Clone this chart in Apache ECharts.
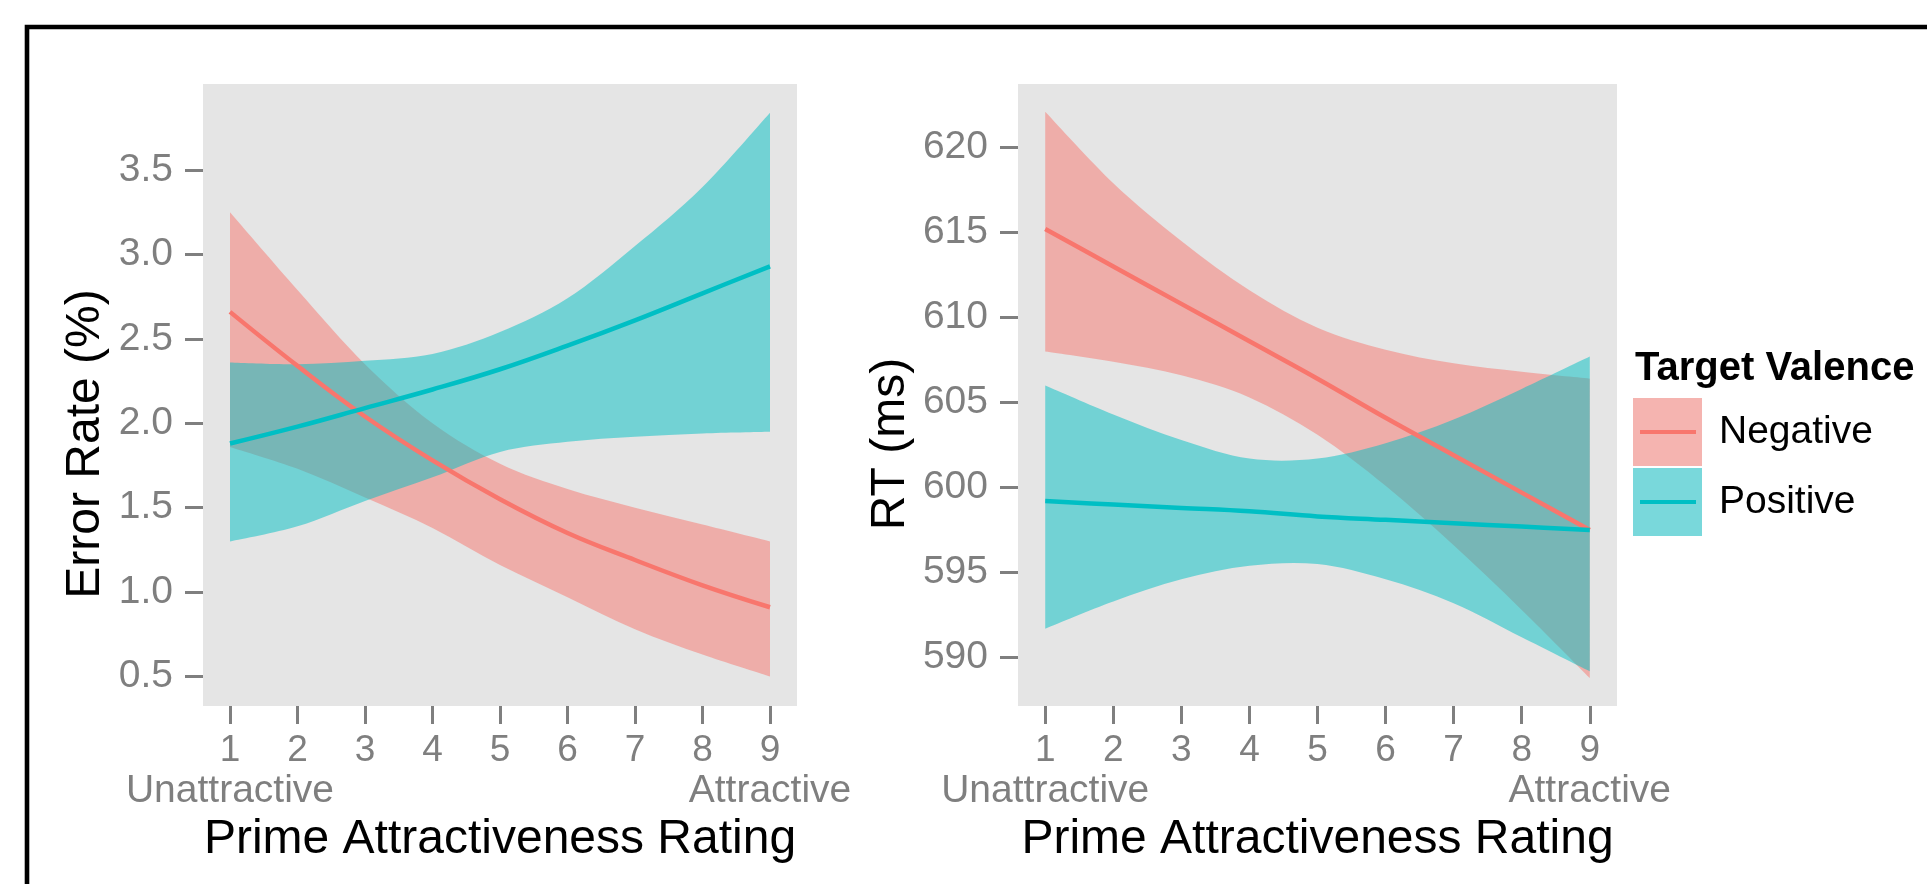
<!DOCTYPE html>
<html>
<head>
<meta charset="utf-8">
<script src="https://cdn.jsdelivr.net/npm/echarts@6/dist/echarts.min.js"></script>
<style>
html,body{margin:0;padding:0;background:#fff;}
#chart{width:1927px;height:884px;}
</style>
</head>
<body>
<div id="chart"></div>
<script>
// ---- data ----
const xs = [1, 2, 3, 4, 5, 6, 7, 8, 9];
const xEndValues = [1, 9];
const xEndLabels = ['Unattractive', 'Attractive'];
const seriesNames = ['Negative', 'Positive'];
const legendTitle = 'Target Valence';
const xTitle = 'Prime Attractiveness Rating';
const errTitle = 'Error Rate (%)';
const rtTitle = 'RT (ms)';

// Error rate panel
const errTicks  = [0.5, 1.0, 1.5, 2.0, 2.5, 3.0, 3.5];
const errNegFit = [2.66, 2.34, 2.04, 1.78, 1.55, 1.35, 1.19, 1.04, 0.91];
const errNegLo  = [1.86, 1.73, 1.56, 1.38, 1.16, 0.97, 0.78, 0.63, 0.50];
const errNegHi  = [3.25, 2.79, 2.35, 2.00, 1.76, 1.61, 1.50, 1.40, 1.30];
const errPosFit = [1.88, 1.98, 2.09, 2.20, 2.32, 2.46, 2.61, 2.77, 2.93];
const errPosLo  = [1.30, 1.39, 1.54, 1.68, 1.83, 1.89, 1.92, 1.94, 1.95];
const errPosHi  = [2.36, 2.35, 2.37, 2.41, 2.54, 2.74, 3.05, 3.40, 3.84];

// RT panel
const rtTicks  = [590, 595, 600, 605, 610, 615, 620];
const rtNegFit = [615.2, 613.0, 610.8, 608.6, 606.4, 604.1, 601.9, 599.7, 597.5];
const rtNegLo  = [608.0, 607.4, 606.6, 605.3, 603.1, 600.1, 596.6, 592.8, 588.8];
const rtNegHi  = [622.1, 617.9, 614.5, 611.6, 609.4, 608.1, 607.3, 606.8, 606.4];
const rtPosFit = [599.2, 599.0, 598.8, 598.6, 598.3, 598.1, 597.9, 597.7, 597.5];
const rtPosLo  = [591.7, 593.3, 594.6, 595.4, 595.5, 594.6, 593.2, 591.2, 589.2];
const rtPosHi  = [606.0, 604.3, 602.8, 601.7, 601.7, 602.6, 604.0, 605.8, 607.7];

// ---- styling ----
const FONT = '"Liberation Sans", Arial, Helvetica, sans-serif';
const RED = '#F8766D', CYAN = '#00BFC4';
const RED_BAND = 'rgba(248,118,109,0.5)', CYAN_BAND = 'rgba(0,191,196,0.5)';
const GREY = '#7F7F7F';

function pairs(arr) { return xs.map((x, i) => [x, arr[i]]); }

// Catmull-Rom spline through pixel points -> path commands (no initial M)
function splineCmds(pts) {
  let d = '';
  for (let i = 0; i < pts.length - 1; i++) {
    const p0 = pts[Math.max(i - 1, 0)], p1 = pts[i], p2 = pts[i + 1], p3 = pts[Math.min(i + 2, pts.length - 1)];
    const c1 = [p1[0] + (p2[0] - p0[0]) / 6, p1[1] + (p2[1] - p0[1]) / 6];
    const c2 = [p2[0] - (p3[0] - p1[0]) / 6, p2[1] - (p3[1] - p1[1]) / 6];
    d += ' C' + c1[0] + ',' + c1[1] + ' ' + c2[0] + ',' + c2[1] + ' ' + p2[0] + ',' + p2[1];
  }
  return d;
}

function band(lo, hi, color, axisIdx) {
  return {
    type: 'custom', xAxisIndex: axisIdx, yAxisIndex: axisIdx, silent: true, z: 2, clip: true,
    data: xs.map((x, i) => [x, lo[i], hi[i]]),
    encode: { x: 0, y: [1, 2] },
    renderItem: function (params, api) {
      if (params.dataIndex !== 0) return null;
      const up = xs.map((x, i) => api.coord([x, hi[i]]));
      const dn = xs.map((x, i) => api.coord([x, lo[i]])).reverse();
      const d = 'M' + up[0][0] + ',' + up[0][1] + splineCmds(up) +
        ' L' + dn[0][0] + ',' + dn[0][1] + splineCmds(dn) + ' Z';
      return { type: 'path', shape: { pathData: d }, style: { fill: color, stroke: null } };
    }
  };
}
function fit(vals, color, name, axisIdx) {
  return { type: 'line', name: name, data: pairs(vals), symbol: 'none', smooth: 0.4,
    lineStyle: { color: color, width: 4.5 }, itemStyle: { color: color }, silent: true, z: 5,
    xAxisIndex: axisIdx, yAxisIndex: axisIdx };
}

function keyIcon(fill, line) {
  const svg = '<svg xmlns="http://www.w3.org/2000/svg" width="69" height="68" viewBox="0 0 69 68">' +
    '<rect x="0" y="0" width="69" height="68" fill="' + fill + '"/>' +
    '<rect x="7" y="32" width="56" height="4" fill="' + line + '"/></svg>';
  return 'image://data:image/svg+xml;charset=utf-8,' + encodeURIComponent(svg);
}

function xAxisDef(gridIndex) {
  return {
    gridIndex: gridIndex, type: 'value', min: 0.6, max: 9.4, position: 'bottom',
    axisLine: { show: false }, splitLine: { show: false },
    axisTick: { show: true, customValues: xs, length: 18, lineStyle: { color: GREY, width: 3 } },
    axisLabel: {
      customValues: xs, margin: 26, fontSize: 37, color: GREY, fontFamily: FONT,
      showMinLabel: true, showMaxLabel: true, hideOverlap: false
    },
    name: xTitle, nameLocation: 'middle', nameGap: 110,
    nameTextStyle: { fontSize: 48, color: '#000', fontFamily: FONT }
  };
}
// second axis on the same grid carrying only the end-point descriptions
function xWordAxisDef(gridIndex) {
  return {
    gridIndex: gridIndex, type: 'value', min: 0.6, max: 9.4, position: 'bottom', offset: 0,
    axisLine: { show: false }, splitLine: { show: false }, axisTick: { show: false },
    axisLabel: {
      customValues: xEndValues, margin: 66, fontSize: 39, color: GREY, fontFamily: FONT,
      showMinLabel: true, showMaxLabel: true, hideOverlap: false,
      formatter: v => xEndLabels[xEndValues.indexOf(v)]
    }
  };
}
function yAxisDef(gridIndex, min, max, ticks, fmt, title, gap) {
  return {
    gridIndex: gridIndex, type: 'value', min: min, max: max,
    axisLine: { show: false }, splitLine: { show: false },
    axisTick: { show: true, customValues: ticks, length: 18, lineStyle: { color: GREY, width: 3 } },
    axisLabel: { customValues: ticks, margin: 30, formatter: fmt, fontSize: 39, color: GREY, fontFamily: FONT,
      showMinLabel: true, showMaxLabel: true, hideOverlap: false },
    name: title, nameLocation: 'middle', nameGap: gap,
    nameTextStyle: { fontSize: 48, color: '#000', fontFamily: FONT, padding: [0, 98, 0, 0] }
  };
}

const chart = echarts.init(document.getElementById('chart'), null, { renderer: 'canvas' });
const option = {
  animation: false,
  backgroundColor: '#ffffff',
  textStyle: { fontFamily: FONT },
  title: {
    text: legendTitle, left: 1635, top: 349, padding: 0,
    textStyle: { fontSize: 40, fontWeight: 'bold', color: '#000', fontFamily: FONT }
  },
  legend: {
    orient: 'vertical', left: 1633, top: 398, padding: 0,
    itemWidth: 69, itemHeight: 68, itemGap: 2, selectedMode: false,
    data: [
      { name: seriesNames[0], icon: keyIcon('#F5B4B0', RED) },
      { name: seriesNames[1], icon: keyIcon('#79D8DB', CYAN) }
    ],
    textStyle: { fontSize: 39, color: '#000', fontFamily: FONT, padding: [5, 0, 0, 12] }
  },
  grid: [
    { left: 203, top: 84, width: 594, height: 622, show: true, backgroundColor: '#E5E5E5', borderWidth: 0, outerBoundsMode: 'none' },
    { left: 1018, top: 84, width: 599, height: 622, show: true, backgroundColor: '#E5E5E5', borderWidth: 0, outerBoundsMode: 'none' }
  ],
  xAxis: [xAxisDef(0), xAxisDef(1), xWordAxisDef(0), xWordAxisDef(1)],
  yAxis: [
    yAxisDef(0, 0.325, 4.01, errTicks, v => v.toFixed(1), errTitle, 93),
    yAxisDef(1, 587.15, 623.73, rtTicks, v => String(v), rtTitle, 103)
  ],
  series: [
    band(errNegLo, errNegHi, RED_BAND, 0),
    band(errPosLo, errPosHi, CYAN_BAND, 0),
    fit(errNegFit, RED, seriesNames[0], 0),
    fit(errPosFit, CYAN, seriesNames[1], 0),
    band(rtNegLo, rtNegHi, RED_BAND, 1),
    band(rtPosLo, rtPosHi, CYAN_BAND, 1),
    fit(rtNegFit, RED, seriesNames[0], 1),
    fit(rtPosFit, CYAN, seriesNames[1], 1)
  ],
  graphic: [
    { type: 'rect', shape: { x: 27, y: 27, width: 1950, height: 900 },
      style: { fill: 'none', stroke: '#000', lineWidth: 4.6 }, silent: true, z: 100 }
  ]
};
chart.setOption(option);
</script>
</body>
</html>
